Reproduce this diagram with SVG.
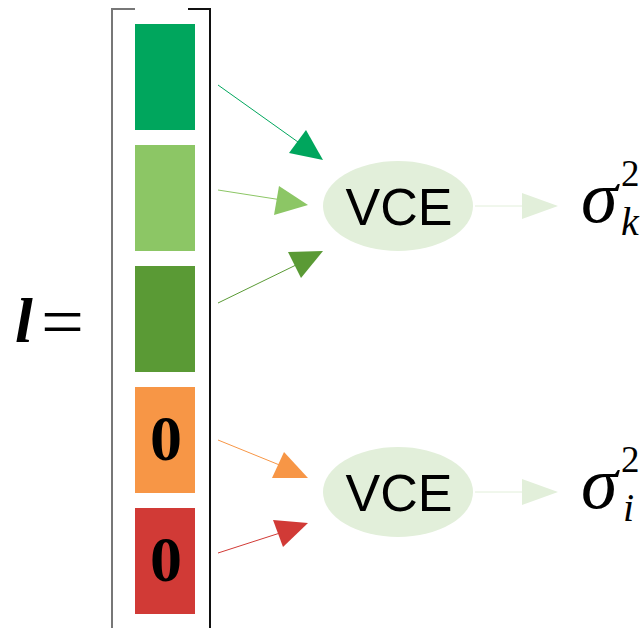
<svg xmlns="http://www.w3.org/2000/svg" width="644" height="628" viewBox="0 0 644 628">
<style>
.vce{font-family:"Liberation Sans",Arial,sans-serif;font-size:52px;fill:#000;text-anchor:middle}
.zero{font-family:"Liberation Serif","Times New Roman",serif;font-weight:bold;font-size:64px;fill:#000;text-anchor:middle}
.math{font-family:"Liberation Serif","Times New Roman",serif;fill:#000}
.ell{fill:#E2EFDA}
</style>
<rect width="644" height="628" fill="#fff"/>
<g id="label-l">
<text class="math" x="15" y="342" font-size="64" font-style="italic" font-weight="bold">l</text>
<text class="math" x="41" y="346" font-size="72" textLength="43" lengthAdjust="spacingAndGlyphs">=</text>
</g>
<g id="bracket" fill="none" stroke-width="2">
<path d="M135,9 H112 V628" stroke="#777"/>
<path d="M188,9 H210 V628" stroke="#111"/>
</g>
<g id="box1"><rect x="135" y="24" width="60" height="106" fill="#00A65D"/></g>
<g id="box2"><rect x="135" y="145" width="60" height="106" fill="#8CC665"/></g>
<g id="box3"><rect x="135" y="266" width="60" height="106" fill="#5A9A35"/></g>
<g id="box4"><rect x="135" y="387" width="60" height="106" fill="#F79646"/><text class="zero" x="166" y="460">0</text></g>
<g id="box5"><rect x="135" y="508" width="60" height="106" fill="#D13A36"/><text class="zero" x="166" y="581">0</text></g>
<g id="vce1"><ellipse class="ell" cx="398" cy="206" rx="75" ry="45"/><text class="vce" x="399" y="225">VCE</text></g>
<g id="vce2"><ellipse class="ell" cx="398" cy="492" rx="75" ry="45"/><text class="vce" x="399" y="511">VCE</text></g>
<g id="sigma-k">
<text class="math" x="581" y="222" font-size="74" font-style="italic">σ</text>
<text class="math" x="621" y="186" font-size="37">2</text>
<text class="math" x="621" y="235" font-size="40" font-style="italic">k</text>
</g>
<g id="sigma-i">
<text class="math" x="581" y="508" font-size="74" font-style="italic">σ</text>
<text class="math" x="621" y="472" font-size="37">2</text>
<text class="math" x="623" y="521" font-size="40" font-style="italic">i</text>
</g>
<g id="connectors" stroke-width="1">
<line x1="218" y1="85" x2="298" y2="142" stroke="#00A65D"/>
<polygon points="289,153 306,130 323,160" fill="#00A65D"/>
<line x1="218" y1="190" x2="282" y2="200" stroke="#8CC665"/>
<polygon points="274,215 279,186 308,205" fill="#8CC665"/>
<line x1="218" y1="303" x2="296" y2="265" stroke="#5A9A35"/>
<polygon points="288,252 323,251 301,278" fill="#5A9A35"/>
<line x1="218" y1="440" x2="282" y2="466" stroke="#F79646"/>
<polygon points="272,478 284,452 308,478" fill="#F79646"/>
<line x1="218" y1="553" x2="280" y2="533" stroke="#D13A36"/>
<polygon points="273,520 308,523 283,547" fill="#D13A36"/>
<line x1="475" y1="206" x2="528" y2="206" stroke="#E2EFDA"/>
<polygon points="522,193 558,206 522,219" fill="#E2EFDA"/>
<line x1="475" y1="492" x2="528" y2="492" stroke="#E2EFDA"/>
<polygon points="522,479 558,492 522,505" fill="#E2EFDA"/>
</g>
</svg>
